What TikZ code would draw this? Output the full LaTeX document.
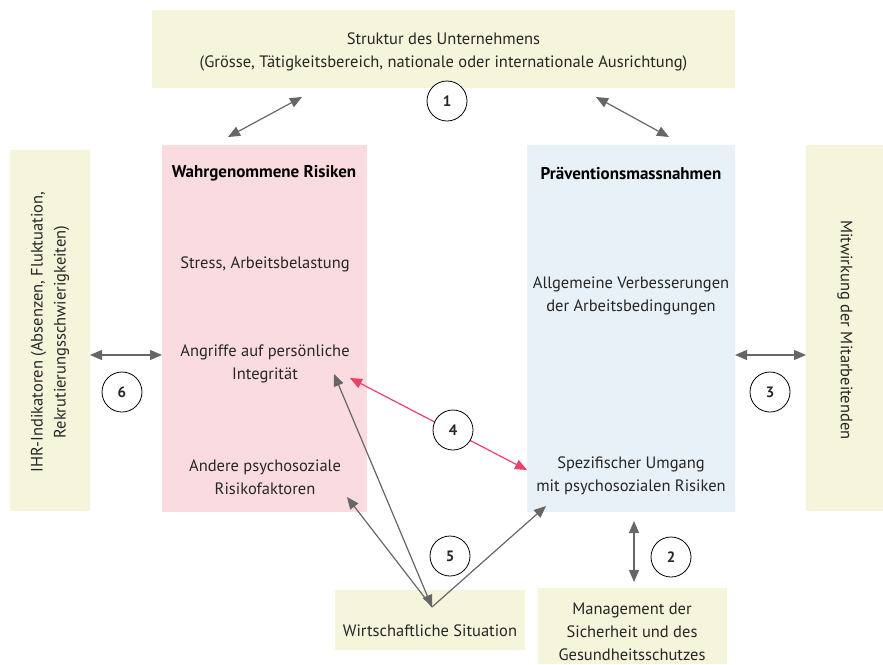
\documentclass[tikz,border=0pt]{standalone}
\usepackage{fontspec}
\setmainfont{PT Sans}
\usetikzlibrary{arrows.meta}
\definecolor{beige}{HTML}{F5F5DC}
\definecolor{pinkbox}{HTML}{FADCE0}
\definecolor{bluebox}{HTML}{E8F1F8}
\definecolor{arrowgray}{HTML}{666666}
\definecolor{redarrow}{HTML}{E8416A}
\begin{document}
\begin{tikzpicture}[x=1pt,y=-1pt,
  every node/.style={font=\fontsize{16.5}{23}\selectfont, text=black!85},
  txt/.style={align=center, inner sep=0pt},
  hdr/.style={align=center, inner sep=0pt, font=\fontsize{17}{22}\selectfont\bfseries, text=black},
  numcirc/.style={circle, draw=black, fill=white, line width=0.8pt, minimum size=40pt, inner sep=0pt, font=\fontsize{15}{16}\selectfont\bfseries},
  conn/.style={draw=arrowgray, line width=1.2pt, {Triangle[length=12pt,width=10pt]}-{Triangle[length=12pt,width=10pt]}},
  connred/.style={draw=redarrow, line width=1.2pt, {Triangle[length=12pt,width=10pt]}-{Triangle[length=12pt,width=10pt]}},
  connone/.style={draw=arrowgray, line width=1.2pt, -{Triangle[length=12pt,width=10pt]}}
]
\useasboundingbox (0,0) rectangle (883,664);
% boxes
\fill[beige] (152,10) rectangle (735,88);
\fill[pinkbox] (162,145) rectangle (367,512);
\fill[bluebox] (527,145) rectangle (735,512);
\fill[beige] (10,150) rectangle (90,511);
\fill[beige] (806,145) rectangle (883,511);
\fill[beige] (335,590) rectangle (525,650);
\fill[beige] (538,588) rectangle (727,664);
% texts
\node[txt] (top) at (443.5,52) {Struktur des Unternehmens\\(Grösse, Tätigkeitsbereich, nationale oder internationale Ausrichtung)};
\node[hdr] (risk) at (264,173) {Wahrgenommene Risiken};
\node[txt] (stress) at (265,264) {Stress, Arbeitsbelastung};
\node[txt] (angr) at (265,364) {Angriffe auf persönliche\\Integrität};
\node[txt] (andere) at (265,477) {Andere psychosoziale\\Risikofaktoren};
\node[hdr] (prae) at (631,173) {Präventionsmassnahmen};
\node[txt] (allg) at (631,296) {Allgemeine Verbesserungen\\der Arbeitsbedingungen};
\node[txt] (spez) at (631,476) {Spezifischer Umgang\\mit psychosozialen Risiken};
\node[txt, rotate=-90] (mitw) at (845,330) {Mitwirkung der Mitarbeitenden};
\node[txt, rotate=90] (ihr) at (50,332) {IHR-Indikatoren (Absenzen, Fluktuation,\\Rekrutierungsschwierigkeiten)};
\node[txt] (wirt) at (430,631) {Wirtschaftliche Situation};
\node[txt] (mgmt) at (632,632) {Management der\\Sicherheit und des\\Gesundheitsschutzes};
% coordinates
\coordinate (a1s) at (228,137);
\coordinate (a1e) at (302,97);
\coordinate (b1s) at (596,97);
\coordinate (b1e) at (669,137);
\coordinate (a6s) at (90,355);
\coordinate (a6e) at (162,355);
\coordinate (a3s) at (735,355);
\coordinate (a3e) at (806,355);
\coordinate (r4s) at (350,378);
\coordinate (r4e) at (527,470);
\coordinate (a2s) at (634,521);
\coordinate (a2e) at (634,582);
\coordinate (w0) at (432,607);
\coordinate (w1) at (347,497);
\coordinate (w2) at (334,374);
\coordinate (w3) at (546,506);
% connectors
\draw[conn] (a1s) -- (a1e);
\draw[conn] (b1s) -- (b1e);
\draw[conn] (a6s) -- (a6e);
\draw[conn] (a3s) -- (a3e);
\draw[connred] (r4s) -- (r4e);
\draw[conn] (a2s) -- (a2e);
\draw[connone] (w0) -- (w1);
\draw[conn] (w2) -- (w0);
\draw[connone] (w0) -- (w3);
% circles
\node[numcirc] (c1) at (447,101) {1};
\node[numcirc] (c2) at (671,557) {2};
\node[numcirc] (c3) at (770,392) {3};
\node[numcirc] (c4) at (453,430) {4};
\node[numcirc] (c5) at (450,556) {5};
\node[numcirc] (c6) at (122,392) {6};
\end{tikzpicture}
\end{document}
